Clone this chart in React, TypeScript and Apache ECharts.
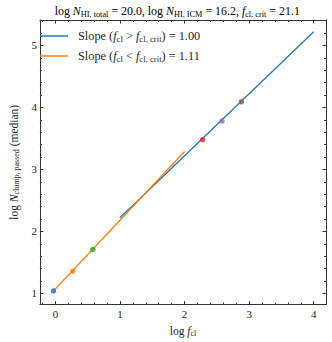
import React, { useEffect, useRef } from "react";
import * as echarts from "echarts";

// ---- data ----
const slopeAboveX = [1, 4];
const slopeAboveY = [2.22, 5.22];
const slopeBelowX = [-0.03, 2.0];
const slopeBelowY = [1.04, 3.29];
const pointX = [-0.03, 0.27, 0.58, 2.28, 2.58, 2.88];
const pointY = [1.04, 1.36, 1.71, 3.48, 3.78, 4.09];

const xMajor = [0, 1, 2, 3, 4];
const xMinor = [-0.2, 0.2, 0.4, 0.6, 0.8, 1.2, 1.4, 1.6, 1.8, 2.2, 2.4, 2.6, 2.8, 3.2, 3.4, 3.6, 3.8];
const yMajor = [1, 2, 3, 4, 5];
const yMinor = [1.2, 1.4, 1.6, 1.8, 2.2, 2.4, 2.6, 2.8, 3.2, 3.4, 3.6, 3.8, 4.2, 4.4, 4.6, 4.8, 5.2];

const X_MIN = -0.24;
const X_MAX = 4.19;
const Y_MIN = 0.82;
const Y_MAX = 5.41;

const FONT = "'Liberation Serif', 'DejaVu Serif', serif";
const TEXT = "#262626";
const AXIS = "#333333";
const PALETTE = ["#1f77b4", "#ff7f0e", "#2ca02c", "#d62728", "#9467bd", "#8c564b"];

const richDef = (size: number, sub: number, lh: number) => ({
  n: { fontFamily: FONT, fontSize: size, color: TEXT, lineHeight: lh },
  i: { fontFamily: FONT, fontSize: size, fontStyle: "italic", color: TEXT, lineHeight: lh },
  s: { fontFamily: FONT, fontSize: sub, color: TEXT, lineHeight: 6, verticalAlign: "bottom" },
  p: { fontFamily: FONT, fontSize: size, color: TEXT, lineHeight: lh, padding: [0, 0, 0, 5] },
});

export default function App() {
  const ref = useRef<HTMLDivElement>(null);
  useEffect(() => {
    if (!ref.current) return;
    const chart = echarts.init(ref.current, undefined, { renderer: "svg" });

    const xAxisBase = (position: "bottom" | "top", values: number[], len: number, line: boolean, labels: boolean) => ({
      type: "value",
      min: X_MIN,
      max: X_MAX,
      position,
      gridIndex: 0,
      splitLine: { show: false },
      axisLine: { show: line, onZero: false, lineStyle: { color: AXIS, width: 1 } },
      axisTick: { show: true, inside: true, length: len, customValues: values, lineStyle: { color: AXIS, width: 1 } },
      axisLabel: labels
        ? { show: true, customValues: xMajor, margin: 4, fontFamily: FONT, fontSize: 11, color: TEXT, formatter: (v: number) => String(Math.round(v)) }
        : { show: false },
    });
    const yAxisBase = (position: "left" | "right", values: number[], len: number, line: boolean, labels: boolean) => ({
      type: "value",
      min: Y_MIN,
      max: Y_MAX,
      position,
      gridIndex: 0,
      splitLine: { show: false },
      axisLine: { show: line, onZero: false, lineStyle: { color: AXIS, width: 1 } },
      axisTick: { show: true, inside: true, length: len, customValues: values, lineStyle: { color: AXIS, width: 1 } },
      axisLabel: labels
        ? { show: true, customValues: yMajor, margin: 3, fontFamily: FONT, fontSize: 11, color: TEXT, formatter: (v: number) => String(Math.round(v)) }
        : { show: false },
    });

    const xAxes: any[] = [
      {
        ...xAxisBase("bottom", xMajor, 3.5, true, true),
        name: "{n|log }{i|f}{s|cl}",
        nameLocation: "middle",
        nameGap: 11,
        nameTextStyle: { rich: richDef(11.5, 8, 13), verticalAlign: "top" },
      },
      xAxisBase("bottom", xMinor, 2, false, false),
      xAxisBase("top", xMajor, 3.5, true, false),
      xAxisBase("top", xMinor, 2, false, false),
    ];
    const yAxes: any[] = [
      {
        ...yAxisBase("left", yMajor, 3.5, true, true),
        name: "{n|log }{i|N}{s|clump, passed}{n| (median)}",
        nameLocation: "middle",
        nameRotate: 90,
        nameGap: 14,
        nameTextStyle: { rich: richDef(11.5, 8, 13) },
      },
      yAxisBase("left", yMinor, 2, false, false),
      yAxisBase("right", yMajor, 3.5, true, false),
      yAxisBase("right", yMinor, 2, false, false),
    ];

    const legendRich = richDef(12.3, 8.7, 14);

    chart.setOption({
      animation: false,
      backgroundColor: "#ffffff",
      grid: { left: 28.5, right: 6, top: 20, bottom: 32.7, containLabel: false },
      xAxis: xAxes,
      yAxis: yAxes,
      legend: {
        data: ["above", "below"],
        orient: "vertical",
        left: 40,
        top: 30,
        itemGap: 7,
        itemWidth: 28,
        itemHeight: 1.5,
        icon: "rect",
        padding: 0,
        formatter: (name: string) =>
          name === "above"
            ? "{p|Slope (}{i|f}{s|cl}{n| > }{i|f}{s|cl, crit}{n|) = 1.00}"
            : "{p|Slope (}{i|f}{s|cl}{n| < }{i|f}{s|cl, crit}{n|) = 1.11}",
        textStyle: { rich: legendRich },
      },
      graphic: [
        {
          type: "text",
          x: 177.25,
          y: 11,
          style: {
            text: "{n|log }{i|N}{s|HI, total}{n| = 20.0, log }{i|N}{s|HI, ICM}{n| = 16.2, }{i|f}{s|cl, crit}{n| = 21.1}",
            rich: richDef(11.9, 8.3, 14),
            align: "center",
            verticalAlign: "middle",
          },
        },
      ],
      series: [
        {
          name: "above",
          type: "line",
          xAxisIndex: 0,
          yAxisIndex: 0,
          data: slopeAboveX.map((x, k) => [x, slopeAboveY[k]]),
          showSymbol: false,
          symbol: "none",
          lineStyle: { color: PALETTE[0], width: 1.3 },
          itemStyle: { color: PALETTE[0] },
          z: 2,
        },
        {
          name: "below",
          type: "line",
          xAxisIndex: 0,
          yAxisIndex: 0,
          data: slopeBelowX.map((x, k) => [x, slopeBelowY[k]]),
          showSymbol: false,
          symbol: "none",
          lineStyle: { color: PALETTE[1], width: 1.3 },
          itemStyle: { color: PALETTE[1] },
          z: 3,
        },
        {
          name: "points",
          type: "scatter",
          xAxisIndex: 0,
          yAxisIndex: 0,
          symbolSize: 5.5,
          data: pointX.map((x, k) => ({ value: [x, pointY[k]], itemStyle: { color: PALETTE[k % PALETTE.length] } })),
          z: 4,
        },
      ],
    });
    return () => chart.dispose();
  }, []);
  return <div ref={ref} style={{ width: 332, height: 342, position: "absolute", left: 0, top: 0 }} />;
}
